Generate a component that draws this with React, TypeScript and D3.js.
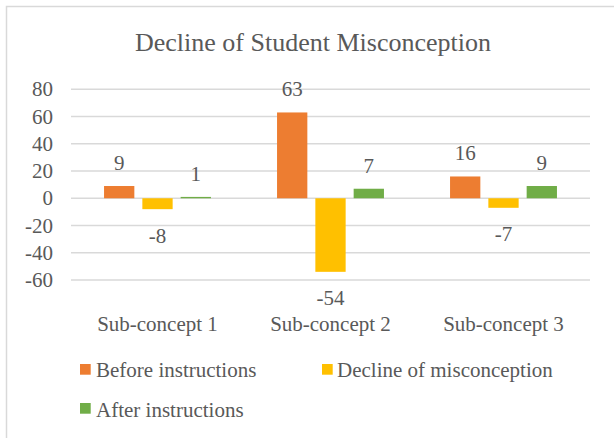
import React from "react";
import * as d3 from "d3";

const categories = ["Sub-concept 1", "Sub-concept 2", "Sub-concept 3"];
const seriesNames = ["Before instructions", "Decline of misconception", "After instructions"];
const beforeValues = [9, 63, 16];
const declineValues = [-8, -54, -7];
const afterValues = [1, 7, 9];
const yTicks = [80, 60, 40, 20, 0, -20, -40, -60];
const colors = ["#ED7D31", "#FFC000", "#70AD47"];

const seriesValues = [beforeValues, declineValues, afterValues];

export default function App() {
  const W = 614;
  const H = 438;
  const font = "'Liberation Serif', 'Times New Roman', serif";
  const textColor = "#595959";

  const x0 = d3.scaleBand<string>().domain(categories).range([71, 590]).paddingInner(0).paddingOuter(0);
  const catW = x0.bandwidth();
  const x1 = d3
    .scaleBand<string>()
    .domain(seriesNames)
    .range([catW * 0.191, catW * 0.809])
    .paddingInner(0.209)
    .paddingOuter(0);
  const y = d3.scaleLinear().domain([-60, 80]).range([280, 89.3]);

  const legendItems = [
    { name: seriesNames[0], sx: 80, sy: 364, tx: 96, ty: 377 },
    { name: seriesNames[1], sx: 322, sy: 364, tx: 337, ty: 377 },
    { name: seriesNames[2], sx: 80, sy: 403, tx: 96, ty: 416.5 },
  ];

  return (
    <svg
      width={W}
      height={H}
      style={{ position: "absolute", left: 0, top: 0, background: "#fff" }}
      fontFamily={font}
    >
      <rect x={6.5} y={6.5} width={640} height={460} fill="#fff" stroke="#d9d9d9" strokeWidth={1.5} />
      <text x={313} y={51} textAnchor="middle" fontSize={26} fill={textColor}>
        Decline of Student Misconception
      </text>
      {yTicks.map((t) => (
        <g key={t}>
          <line x1={71} x2={590} y1={y(t)} y2={y(t)} stroke="#d9d9d9" strokeWidth={1.5} />
          <text x={53} y={y(t) + 7} textAnchor="end" fontSize={21} fill={textColor}>
            {t}
          </text>
        </g>
      ))}
      {categories.map((c, ci) => (
        <g key={c} transform={`translate(${x0(c)},0)`}>
          {seriesNames.map((s, si) => {
            const v = seriesValues[si][ci];
            const top = y(Math.max(0, v));
            const bottom = y(Math.min(0, v));
            const bx = x1(s) as number;
            const bw = x1.bandwidth();
            return (
              <g key={s}>
                <rect x={bx} y={top} width={bw} height={bottom - top} fill={colors[si]} />
                <text
                  x={bx + bw / 2}
                  y={v >= 0 ? top - 16 : bottom + 33.5}
                  textAnchor="middle"
                  fontSize={21}
                  fill={textColor}
                >
                  {v}
                </text>
              </g>
            );
          })}
          <text x={catW / 2} y={331} textAnchor="middle" fontSize={21} fill={textColor}>
            {c}
          </text>
        </g>
      ))}
      {legendItems.map((l, i) => (
        <g key={l.name}>
          <rect x={l.sx} y={l.sy} width={10.7} height={10.7} fill={colors[i]} />
          <text x={l.tx} y={l.ty} fontSize={21} fill={textColor}>
            {l.name}
          </text>
        </g>
      ))}
    </svg>
  );
}
